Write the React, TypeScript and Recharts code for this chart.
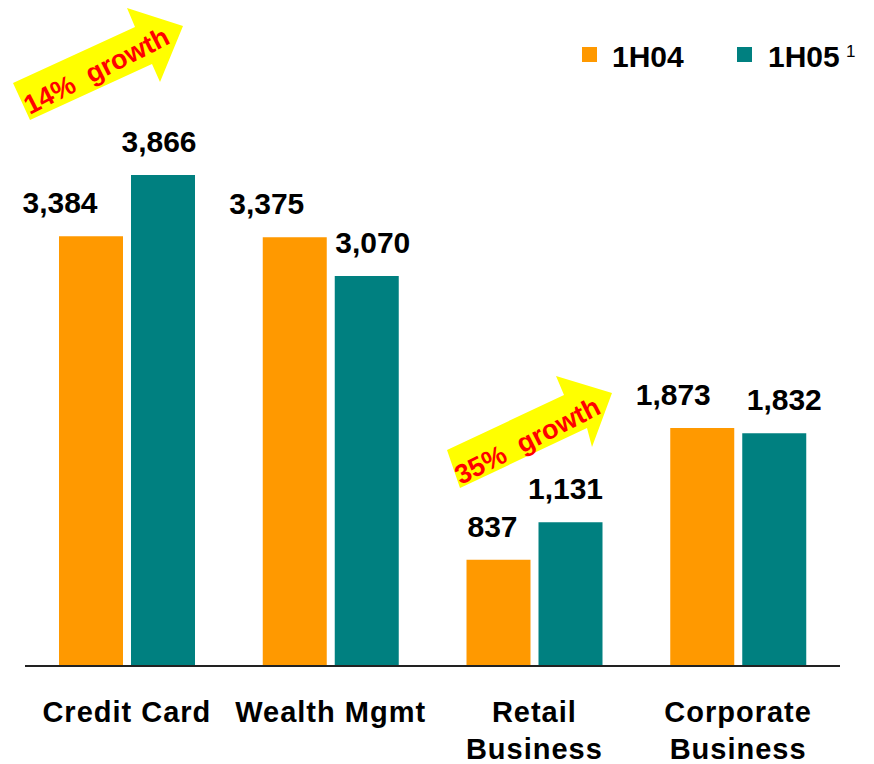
import { BarChart, Bar, XAxis, YAxis, LabelList, Customized } from "recharts";

const categories = ["Credit Card", "Wealth Mgmt", "Retail\nBusiness", "Corporate\nBusiness"];
const h104 = [3384, 3375, 837, 1873];
const h105 = [3866, 3070, 1131, 1832];

const ORANGE = "#FF9900";
const TEAL = "#008080";
const FONT = "'Liberation Sans', Arial, sans-serif";

// small horizontal nudges for the value labels, as in the original slide
const nudge104 = [-31, -28, -6, -29];
const nudge105 = [-4, 6, -5, 10];

const data = categories.map((name, i) => ({ name, h104: h104[i], h105: h105[i] }));

const fmt = (v: any) => Number(v).toLocaleString("en-US");

function CategoryTick(props: any) {
  const { x, y, payload } = props;
  const lines = String(payload.value).split("\n");
  return (
    <text x={x} y={y} textAnchor="middle" fontFamily={FONT} fontWeight="bold" fontSize={29} letterSpacing={1} fill="#000">
      {lines.map((line, i) => (
        <tspan key={i} x={x} dy={i === 0 ? 48 : 37}>
          {line}
        </tspan>
      ))}
    </text>
  );
}

function valueLabel(nudges: number[]) {
  return (props: any) => {
    const { x, y, width, value, index } = props;
    return (
      <text
        x={x + width / 2 + (nudges[index] ?? 0)}
        y={y - 23}
        textAnchor="middle"
        fontFamily={FONT}
        fontWeight="bold"
        fontSize={30}
        fill="#000"
      >
        {fmt(value)}
      </text>
    );
  };
}

function LegendAndArrows() {
  return (
    <g fontFamily={FONT} fontWeight="bold">
      <rect x={582} y={47} width={15} height={15} fill={ORANGE} />
      <text x={612} y={67} fontSize={30} fill="#000">1H04</text>
      <rect x={737} y={47} width={15} height={15} fill={TEAL} />
      <text x={768} y={67} fontSize={30} fill="#000">1H05</text>
      <text x={846} y={57} fontSize={17} fontWeight="normal" fill="#000">1</text>

      <polygon points="13,83 135,27 127,8 183,26 160,82 152,64 30,120" fill="#FFFF00" />
      <text x={96} y={80} fill="#FF0000" fontSize={27} textAnchor="middle" style={{ whiteSpace: "pre" }} transform="rotate(-27 96 70)">
        {"14%  growth"}
      </text>
      <polygon points="447,450 564,395 556,376 612,393 592,447 587,428 460,488" fill="#FFFF00" />
      <text x={527} y={450} fill="#FF0000" fontSize={27} textAnchor="middle" style={{ whiteSpace: "pre" }} transform="rotate(-27 527 440)">
        {"35%  growth"}
      </text>
    </g>
  );
}

export default function App() {
  return (
    <div style={{ position: "absolute", left: 0, top: 0, width: 874, height: 764, background: "#fff" }}>
      <BarChart
        width={874}
        height={764}
        data={data}
        margin={{ top: 36, right: 34, bottom: 0, left: 25 }}
        barSize={64}
        barGap={8}
      >
        <XAxis
          dataKey="name"
          interval={0}
          height={98}
          tickLine={false}
          axisLine={{ stroke: "#222", strokeWidth: 2 }}
          tick={<CategoryTick />}
        />
        <YAxis hide domain={[0, 4960]} />
        <Bar dataKey="h104" fill={ORANGE} isAnimationActive={false}>
          <LabelList dataKey="h104" content={valueLabel(nudge104)} />
        </Bar>
        <Bar dataKey="h105" fill={TEAL} isAnimationActive={false}>
          <LabelList dataKey="h105" content={valueLabel(nudge105)} />
        </Bar>
        <Customized component={LegendAndArrows} />
      </BarChart>
    </div>
  );
}
